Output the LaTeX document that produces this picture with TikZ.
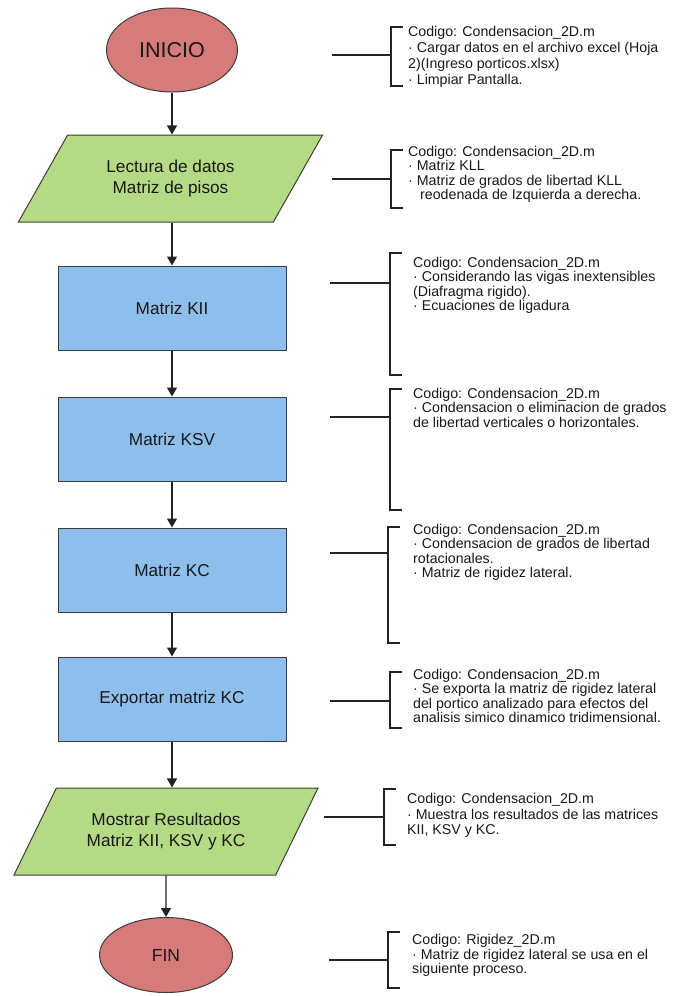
\documentclass[tikz,border=0pt]{standalone}
\usepackage{fontspec}
\setmainfont{Liberation Sans}
\usetikzlibrary{shapes.geometric,arrows.meta}

\definecolor{termfill}{RGB}{215,122,122}
\definecolor{iofill}{RGB}{181,218,133}
\definecolor{procfill}{RGB}{142,190,236}
\definecolor{edgec}{RGB}{60,60,60}
\definecolor{linec}{RGB}{35,35,35}
\definecolor{inkc}{RGB}{25,25,25}

\begin{document}
\begin{tikzpicture}[x=1pt,y=-1pt,
  terminal/.style={ellipse,draw=edgec,line width=1pt,fill=termfill,
    minimum width=131pt,minimum height=84pt,inner sep=0pt,text=inkc,
    font=\fontsize{21.5}{24}\selectfont},
  iobox/.style={trapezium,trapezium left angle=50,trapezium right angle=130,
    trapezium stretches=true,draw=edgec,line width=1pt,fill=iofill,
    minimum width=305pt,minimum height=87pt,inner sep=0pt,align=center,
    text=inkc,font=\fontsize{17.2}{20.5}\selectfont},
  procbox/.style={rectangle,draw=edgec,line width=1pt,fill=procfill,
    minimum width=228pt,minimum height=84pt,inner sep=0pt,text=inkc,
    font=\fontsize{17.2}{20}\selectfont},
  flow/.style={draw=linec,line width=1.3pt,-{Triangle[width=10pt,length=9pt]}},
  note/.style={anchor=north west,inner sep=0pt,align=left,text=inkc,
    font=\fontsize{14.2}{14.5}\selectfont},
  leader/.style={draw=linec,line width=1.2pt},
]
% page frame
\fill[white] (0,0) rectangle (674,996);
\useasboundingbox (0,0) rectangle (674,996);

% flowchart column
\node[terminal] (ini) at (172,50) {INICIO};
\node[iobox] (lec) at (170.5,178.5) {Lectura de datos\\Matriz de pisos};
\node[procbox] (kii) at (172,308) {Matriz KII};
\node[procbox] (ksv) at (172,439) {Matriz KSV};
\node[procbox] (kc) at (172,570) {Matriz KC};
\node[procbox] (exp) at (172,699) {Exportar matriz KC};
\node[iobox] (mos) at (166,831.5) {Mostrar Resultados\\Matriz KII, KSV y KC};
\node[terminal,minimum width=133pt,minimum height=75pt,
  font=\fontsize{17.5}{20}\selectfont] (fin) at (166,955) {FIN};

\draw[flow] (ini.south) -- (ini.south |- lec.north);
\draw[flow] (lec.south -| kii.north) -- (kii.north);
\draw[flow] (kii) -- (ksv);
\draw[flow] (ksv) -- (kc);
\draw[flow] (kc) -- (exp);
\draw[flow] (exp.south) -- (exp.south |- mos.north);
\draw[flow] (mos) -- (fin);

% annotations: leader line, bracket and comment text
\coordinate (s1) at (332,55);  \coordinate (b1t) at (391,27);  \coordinate (b1b) at (391,86);
\coordinate (s2) at (332,179); \coordinate (b2t) at (391,150); \coordinate (b2b) at (391,208);
\coordinate (s3) at (330,283); \coordinate (b3t) at (390,253); \coordinate (b3b) at (390,375);
\coordinate (s4) at (330,417); \coordinate (b4t) at (390,389); \coordinate (b4b) at (390,510);
\coordinate (s5) at (330,553); \coordinate (b5t) at (388,527); \coordinate (b5b) at (388,643);
\coordinate (s6) at (330,701); \coordinate (b6t) at (390,672); \coordinate (b6b) at (390,728);
\coordinate (s7) at (324,817); \coordinate (b7t) at (384,789); \coordinate (b7b) at (384,845);
\coordinate (s8) at (329,960); \coordinate (b8t) at (388,932); \coordinate (b8b) at (388,988);

\foreach \i in {1,...,8}{
  \draw[leader] (s\i) -- (s\i -| b\i t);
  \draw[leader] ([xshift=12pt]b\i t) -- (b\i t) -- (b\i b) -- ([xshift=12pt]b\i b);
}

\node[note,font=\fontsize{14.2}{16}\selectfont] (n1) at (408,26)
  {Codigo: Condensacion\_2D.m\\
   · Cargar datos en el archivo excel (Hoja\\
   2)(Ingreso porticos.xlsx)\\
   · Limpiar Pantalla.};
\node[note] (n2) at (408,146)
  {Codigo: Condensacion\_2D.m\\
   · Matriz KLL\\
   · Matriz de grados de libertad KLL\\
   \hspace*{12pt}reodenada de Izquierda a derecha.};
\node[note] (n3) at (413,257)
  {Codigo: Condensacion\_2D.m\\
   · Considerando las vigas inextensibles\\
   (Diafragma rigido).\\
   · Ecuaciones de ligadura};
\node[note] (n4) at (413,388)
  {Codigo: Condensacion\_2D.m\\
   · Condensacion o eliminacion de grados\\
   de libertad verticales o horizontales.};
\node[note] (n5) at (413,524)
  {Codigo: Condensacion\_2D.m\\
   · Condensacion de grados de libertad\\
   rotacionales.\\
   · Matriz de rigidez lateral.};
\node[note] (n6) at (413,669)
  {Codigo: Condensacion\_2D.m\\
   · Se exporta la matriz de rigidez lateral\\
   del portico analizado para efectos del\\
   analisis simico dinamico tridimensional.};
\node[note,font=\fontsize{14.2}{15.5}\selectfont] (n7) at (407,793)
  {Codigo: Condensacion\_2D.m\\
   · Muestra los resultados de las matrices\\
   KII, KSV y KC.};
\node[note] (n8) at (412,934)
  {Codigo: Rigidez\_2D.m\\
   · Matriz de rigidez lateral se usa en el\\
   siguiente proceso.};
\end{tikzpicture}
\end{document}
